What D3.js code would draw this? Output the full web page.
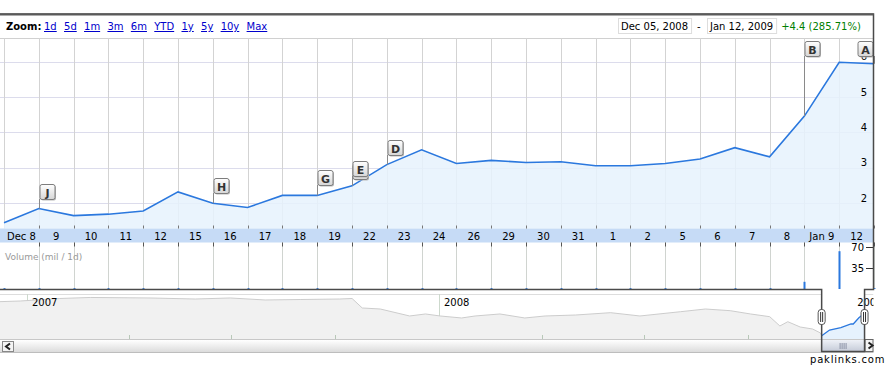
<!DOCTYPE html>
<html>
<head>
<meta charset="utf-8">
<script src="https://cdn.jsdelivr.net/npm/d3@7"></script>
<style>
  body { margin: 0; background: #fff; }
  text { font-family: "DejaVu Sans", Verdana, sans-serif; }
</style>
</head>
<body>
<script>
// trading days shown in the main chart
var tradeDates = ["2008-12-05","2008-12-08","2008-12-09","2008-12-10","2008-12-11","2008-12-12",
  "2008-12-15","2008-12-16","2008-12-17","2008-12-18","2008-12-19","2008-12-22","2008-12-23",
  "2008-12-24","2008-12-26","2008-12-29","2008-12-30","2008-12-31","2009-01-01","2009-01-02",
  "2009-01-05","2009-01-06","2009-01-07","2009-01-08","2009-01-09","2009-01-12"];
var dayLabels = ["Dec 5","Dec 8","9","10","11","12","15","16","17","18","19","22","23",
  "24","26","29","30","31","1","2","5","6","7","8","Jan 9","12"];
var prices = [1.45, 1.85, 1.65, 1.69, 1.78, 2.32, 2.00, 1.88, 2.22, 2.22, 2.49, 3.09, 3.51,
  3.12, 3.21, 3.15, 3.17, 3.06, 3.06, 3.12, 3.25, 3.57, 3.31, 4.46, 5.98, 5.94];
var volumes = [1.5, 1.5, 1.5, 1.5, 1.5, 1.5, 1.5, 1.5, 1.5, 1.5, 1.5, 1.5, 1.5,
  1.5, 1.5, 1.5, 1.5, 1.5, 1.5, 1.5, 1.5, 1.5, 1.5, 12, 63, 1.5];
var priceTicks = [2, 3, 4, 5, 6];
var volumeTicks = [35, 70];

// news flags
var flagLetters = ["J", "H", "G", "E", "D", "B", "A"];
var flagDates = ["2008-12-08","2008-12-15","2008-12-18","2008-12-19","2008-12-22","2009-01-08","2009-01-12"];
var flagStacks = [1, 1, 1, 2, 1, 1, 1];
var flagsPinnedTop = ["B", "A"];

// overview navigator (weekly-ish history)
var navDates = ["2006-12-08","2006-12-26","2007-01-30","2007-02-26","2007-04-20","2007-05-30",
  "2007-06-30","2007-07-31","2007-08-31","2007-10-05","2007-10-16","2007-10-25","2007-11-10",
  "2007-12-06","2007-12-20","2008-01-02","2008-01-21","2008-02-02","2008-02-24","2008-03-17",
  "2008-04-04","2008-05-01","2008-06-01","2008-06-27","2008-08-02","2008-08-24","2008-09-15",
  "2008-10-03","2008-10-20","2008-10-29","2008-11-05","2008-11-16","2008-11-27","2008-12-04",
  "2008-12-05","2008-12-12","2008-12-22","2008-12-31","2009-01-02","2009-01-07","2009-01-12"];
var navPrices = [9.0, 9.14, 9.68, 9.9, 9.79, 9.57, 9.79, 9.36, 9.46, 9.57, 9.68, 7.64, 7.42,
  5.92, 6.35, 5.92, 5.49, 5.92, 6.35, 5.49, 5.92, 6.13, 6.63, 5.92, 6.84, 7.42, 7.06,
  6.35, 5.77, 3.77, 4.69, 3.55, 3.12, 2.26, 1.68, 2.9, 3.4, 4.2, 4.2, 5.55, 6.5];
var navYears = ["2007", "2008", "2009"];
var navQuarters = ["2007-04-01","2007-07-01","2007-10-01","2008-04-01","2008-07-01","2008-10-01"];

var zoomLinks = ["1d","5d","1m","3m","6m","YTD","1y","5y","10y","Max"];
var rangeFrom = "Dec 05, 2008", rangeTo = "Jan 12, 2009", changeText = "+4.4 (285.71%)";

var w = 886, h = 366;
var parse = d3.timeParse("%Y-%m-%d");

var svg = d3.select("body").append("svg")
  .attr("width", w).attr("height", h);

var frameR = 873.5, plotT = 38, plotB = 228.5;
var x = d3.scalePoint().domain(tradeDates).range([4, 874]);
var step = x.step();
var y = d3.scaleLinear().domain([2, 6]).range([203.2, 61.6]);
var vy = d3.scaleLinear().domain([0, 70]).range([289, 247]);

var defs = svg.append("defs");
defs.append("clipPath").attr("id", "plotclip").append("rect")
  .attr("x", 0).attr("y", plotT).attr("width", frameR).attr("height", plotB - plotT);
var fg = defs.append("linearGradient").attr("id", "flaggrad").attr("x1", 0).attr("y1", 0).attr("x2", 0).attr("y2", 1);
fg.append("stop").attr("offset", 0).attr("stop-color", "#ffffff");
fg.append("stop").attr("offset", 1).attr("stop-color", "#d6d6d6");
var sg = defs.append("linearGradient").attr("id", "scrollgrad").attr("x1", 0).attr("y1", 0).attr("x2", 0).attr("y2", 1);
sg.append("stop").attr("offset", 0).attr("stop-color", "#ffffff");
sg.append("stop").attr("offset", 1).attr("stop-color", "#dcdcdc");
var tg = defs.append("linearGradient").attr("id", "thumbgrad").attr("x1", 0).attr("y1", 0).attr("x2", 0).attr("y2", 1);
tg.append("stop").attr("offset", 0).attr("stop-color", "#eef1f7");
tg.append("stop").attr("offset", 1).attr("stop-color", "#c3c9d6");

// ---- top bar ----
svg.append("text").attr("x", 6).attr("y", 30)
  .style("font-size", "10px").style("font-weight", "bold").text("Zoom:");
var lx = 44;
zoomLinks.forEach(function(z) {
  var t = svg.append("text").attr("x", lx).attr("y", 30)
    .style("font-size", "10px").attr("fill", "#0000cc")
    .style("text-decoration", "underline").text(z);
  lx += t.node().getComputedTextLength() + 7.3;
});

function box(txt, bx) {
  var t = svg.append("text").attr("x", bx + 3).attr("y", 29.5).style("font-size", "10px").text(txt);
  var tw = t.node().getComputedTextLength();
  svg.insert("rect", "text").attr("x", bx + 0.5).attr("y", 18.5).attr("width", tw + 6).attr("height", 15)
    .attr("fill", "#fff").attr("stroke", "#dddddd");
  return bx + tw + 6;
}
var e1 = box(rangeFrom, 618);
svg.append("text").attr("x", e1 + 6).attr("y", 29.5).style("font-size", "10px").text("-");
var e2 = box(rangeTo, 707);
svg.append("text").attr("x", e2 + 5).attr("y", 29.5).style("font-size", "10px")
  .attr("fill", "#008000").text(changeText);

svg.append("line").attr("x1", 0).attr("x2", frameR).attr("y1", plotT + 0.5).attr("y2", plotT + 0.5)
  .attr("stroke", "#d0d0d0");

// ---- price plot ----
var plot = svg.append("g").attr("clip-path", "url(#plotclip)");
plot.selectAll(".hg").data(priceTicks).enter().append("line")
  .attr("x1", 0).attr("x2", frameR)
  .attr("y1", function(d) { return Math.round(y(d)) + 0.5; })
  .attr("y2", function(d) { return Math.round(y(d)) + 0.5; })
  .attr("stroke", "#dcdcec");
plot.selectAll(".vg").data(tradeDates).enter().append("line")
  .attr("x1", function(d) { return Math.round(x(d)) + 0.5; })
  .attr("x2", function(d) { return Math.round(x(d)) + 0.5; })
  .attr("y1", plotT).attr("y2", plotB)
  .attr("stroke", "#d3d3d3");

var area = d3.area().x(function(d, i) { return x(tradeDates[i]); })
  .y0(plotB).y1(function(d) { return y(d); });
var line = d3.line().x(function(d, i) { return x(tradeDates[i]); })
  .y(function(d) { return y(d); });
plot.append("path").datum(prices).attr("d", area).attr("fill", "#e6f2fd").attr("fill-opacity", 0.85);
plot.append("path").datum(prices).attr("d", line).attr("fill", "none")
  .attr("stroke", "#2b78de").attr("stroke-width", 1.6);

// price labels on the right
svg.selectAll(".pl").data(priceTicks).enter().append("text")
  .attr("x", 867).attr("y", function(d) { return y(d) - 1.5; })
  .attr("text-anchor", "end").style("font-size", "10px").text(function(d) { return d; });

// flags
flagLetters.forEach(function(letter, i) {
  var idx = tradeDates.indexOf(flagDates[i]);
  var px = Math.round(x(flagDates[i])) + 0.5, py = y(prices[idx]);
  var top = flagsPinnedTop.indexOf(letter) >= 0 ? 41 : Math.round(py - 25);
  var bx = px + 16 > 874 ? px - 17 : px;
  svg.append("line").attr("x1", px).attr("x2", px).attr("y1", top + 15).attr("y2", py)
    .attr("stroke", "#8a8a8a");
  var g = svg.append("g");
  for (var k = flagStacks[i] - 1; k >= 0; k--) {
    g.append("rect").attr("x", bx + 1.5).attr("y", top + 1.5 + k * 3).attr("width", 15).attr("height", 15)
      .attr("rx", 2).attr("fill", "#b8b8b8");
    g.append("rect").attr("x", bx + 0.5).attr("y", top + 0.5 + k * 3).attr("width", 15).attr("height", 15)
      .attr("rx", 2).attr("fill", "url(#flaggrad)").attr("stroke", "#7d7d7d");
  }
  g.append("text").attr("x", bx + 8).attr("y", top + 12.5).attr("text-anchor", "middle")
    .style("font-size", "11px").style("font-weight", "bold").attr("fill", "#333").text(letter);
});

// ---- x axis band ----
svg.append("rect").attr("x", 0).attr("y", plotB).attr("width", frameR).attr("height", 14)
  .attr("fill", "#c6dbf6");
svg.selectAll(".xl").data(tradeDates.slice(1)).enter().append("text")
  .attr("x", function(d) { return x(d) - step / 2; }).attr("y", plotB + 11)
  .attr("text-anchor", "middle").style("font-size", "10px")
  .text(function(d, i) { return dayLabels[i + 1]; });
svg.selectAll(".xt").data(tradeDates.slice(1)).enter().append("line")
  .attr("x1", function(d) { return Math.round(x(d)) + 0.5; })
  .attr("x2", function(d) { return Math.round(x(d)) + 0.5; })
  .attr("y1", plotB - 3).attr("y2", plotB)
  .attr("stroke", "#777");

// ---- volume panel ----
var vTop = plotB + 14;
svg.selectAll(".vvg").data(tradeDates.slice(1)).enter().append("line")
  .attr("x1", function(d) { return Math.round(x(d)) + 0.5; })
  .attr("x2", function(d) { return Math.round(x(d)) + 0.5; })
  .attr("y1", vTop).attr("y2", 289)
  .attr("stroke", "#d0d4d0");
svg.selectAll(".vvt").data(tradeDates.slice(1)).enter().append("line")
  .attr("x1", function(d) { return Math.round(x(d)) + 0.5; })
  .attr("x2", function(d) { return Math.round(x(d)) + 0.5; })
  .attr("y1", vTop).attr("y2", vTop + 4)
  .attr("stroke", "#555");
svg.append("text").attr("x", 5).attr("y", 260).style("font-size", "9px")
  .attr("fill", "#999").text("Volume (mil / 1d)");
svg.selectAll(".vb").data(volumes).enter().append("rect")
  .attr("x", function(d, i) { return Math.round(x(tradeDates[i])) - 0.5; })
  .attr("width", 2)
  .attr("y", function(d) { return vy(d); })
  .attr("height", function(d) { return vy(0) - vy(d); })
  .attr("fill", "#2b78de");
svg.selectAll(".vl").data(volumeTicks).enter().append("text")
  .attr("x", 864).attr("y", function(d) { return vy(d) + 4; })
  .attr("text-anchor", "end").style("font-size", "10px").text(function(d) { return d; });
svg.selectAll(".vtk").data(volumeTicks).enter().append("line")
  .attr("x1", 866).attr("x2", frameR)
  .attr("y1", function(d) { return Math.round(vy(d)) + 0.5; })
  .attr("y2", function(d) { return Math.round(vy(d)) + 0.5; })
  .attr("stroke", "#333");

// ---- navigator ----
var nTop = 294, nBot = 339;
var nx = d3.scaleTime().domain([parse("2007-01-01"), parse("2008-01-01")]).range([27, 439]);
var ny = d3.scaleLinear().domain([1.4, 10]).range([337, 297]);
var navData = navDates.map(function(d, i) { return { date: parse(d), v: navPrices[i] }; });
var winL = nx(parse(tradeDates[0])), winR = nx(parse(tradeDates[tradeDates.length - 1]));

defs.append("clipPath").attr("id", "navclip").append("rect")
  .attr("x", 0).attr("y", nTop).attr("width", frameR).attr("height", nBot - nTop);
defs.append("clipPath").attr("id", "winclip").append("rect")
  .attr("x", winL).attr("y", nTop).attr("width", winR - winL).attr("height", nBot - nTop);

var nav = svg.append("g").attr("clip-path", "url(#navclip)");
nav.append("line").attr("x1", 0).attr("x2", frameR).attr("y1", nTop + 0.5).attr("y2", nTop + 0.5)
  .attr("stroke", "#dddddd");
nav.selectAll(".yr").data(navYears).enter().append("line")
  .attr("x1", function(d) { return Math.round(nx(parse(d + "-01-01"))) + 0.5; })
  .attr("x2", function(d) { return Math.round(nx(parse(d + "-01-01"))) + 0.5; })
  .attr("y1", nTop).attr("y2", nBot).attr("stroke", "#cdd9cd");
var navArea = d3.area().x(function(d) { return nx(d.date); }).y0(nBot).y1(function(d) { return ny(d.v); });
var navLine = d3.line().x(function(d) { return nx(d.date); }).y(function(d) { return ny(d.v); });
nav.append("path").datum(navData).attr("d", navArea).attr("fill", "#f1f1f1");
nav.append("path").datum(navData).attr("d", navLine).attr("fill", "none").attr("stroke", "#cccccc");
nav.append("rect").attr("x", winL).attr("y", nTop).attr("width", winR - winL).attr("height", nBot - nTop)
  .attr("fill", "#fff");
var win = nav.append("g").attr("clip-path", "url(#winclip)");
win.append("path").datum(navData).attr("d", navArea).attr("fill", "#e6f2fd");
win.append("path").datum(navData).attr("d", navLine).attr("fill", "none")
  .attr("stroke", "#2b78de").attr("stroke-width", 1.3);
nav.selectAll(".yrl").data(navYears).enter().append("text")
  .attr("x", function(d) { return nx(parse(d + "-01-01")) + 5; }).attr("y", 306)
  .style("font-size", "10px").text(function(d) { return d; });
nav.selectAll(".qt").data(navQuarters).enter().append("line")
  .attr("x1", function(d) { return Math.round(nx(parse(d))) + 0.5; })
  .attr("x2", function(d) { return Math.round(nx(parse(d))) + 0.5; })
  .attr("y1", nBot - 4).attr("y2", nBot).attr("stroke", "#b8c8b8");
svg.append("line").attr("x1", 0).attr("x2", frameR).attr("y1", nBot + 0.5).attr("y2", nBot + 0.5)
  .attr("stroke", "#c8c8c8");

// scrollbar
svg.append("rect").attr("x", 0).attr("y", nBot + 1).attr("width", frameR).attr("height", 12)
  .attr("fill", "url(#scrollgrad)");
svg.append("line").attr("x1", 0).attr("x2", frameR).attr("y1", 352.5).attr("y2", 352.5).attr("stroke", "#bdbdbd");
svg.append("rect").attr("x", winL).attr("y", nBot + 1).attr("width", winR - winL).attr("height", 12)
  .attr("fill", "url(#thumbgrad)");
[0, 2, 4, 6].forEach(function(o) {
  svg.append("line").attr("x1", (winL + winR) / 2 - 3 + o).attr("x2", (winL + winR) / 2 - 3 + o)
    .attr("y1", 343).attr("y2", 349).attr("stroke", "#8b93a6");
});
svg.append("rect").attr("x", 2.5).attr("y", 341.5).attr("width", 11).attr("height", 10)
  .attr("fill", "#f4f4f4").attr("stroke", "#888");
svg.append("path").attr("d", "M10,343.5 L6,346.5 L10,349.5").attr("fill", "none")
  .attr("stroke", "#222").attr("stroke-width", 2);
svg.append("rect").attr("x", winR + 0.5).attr("y", 339.5).attr("width", frameR - winR - 1).attr("height", 12)
  .attr("fill", "#f4f4f4").attr("stroke", "#666");
svg.append("path").attr("d", "M" + (winR + 4) + ",342.5 L" + (winR + 8) + ",345.5 L" + (winR + 4) + ",348.5")
  .attr("fill", "none").attr("stroke", "#222").attr("stroke-width", 2);

// frame outline around plot and navigator window
svg.append("path")
  .attr("d", "M0,289.5 H" + winL + " V351.5 H" + winR + " V289.5 H" + frameR + " V14 H0")
  .attr("fill", "none").attr("stroke", "#4a4a4a").attr("stroke-width", 1.5);
svg.append("line").attr("x1", 0).attr("x2", frameR).attr("y1", 14.5).attr("y2", 14.5)
  .attr("stroke", "#5a5a5a").attr("stroke-width", 2);

// window handles
[winL, winR].forEach(function(hx) {
  svg.append("rect").attr("x", hx - 3.5).attr("y", 309.5).attr("width", 7).attr("height", 15)
    .attr("rx", 3).attr("fill", "#fff").attr("stroke", "#555");
  [-1, 1].forEach(function(o) {
    svg.append("line").attr("x1", hx + o).attr("x2", hx + o).attr("y1", 312).attr("y2", 322)
      .attr("stroke", "#333");
  });
});

svg.append("text").attr("x", 810).attr("y", 363).style("font-size", "10px")
  .style("letter-spacing", "0.8px").text("paklinks.com");
</script>
</body>
</html>
